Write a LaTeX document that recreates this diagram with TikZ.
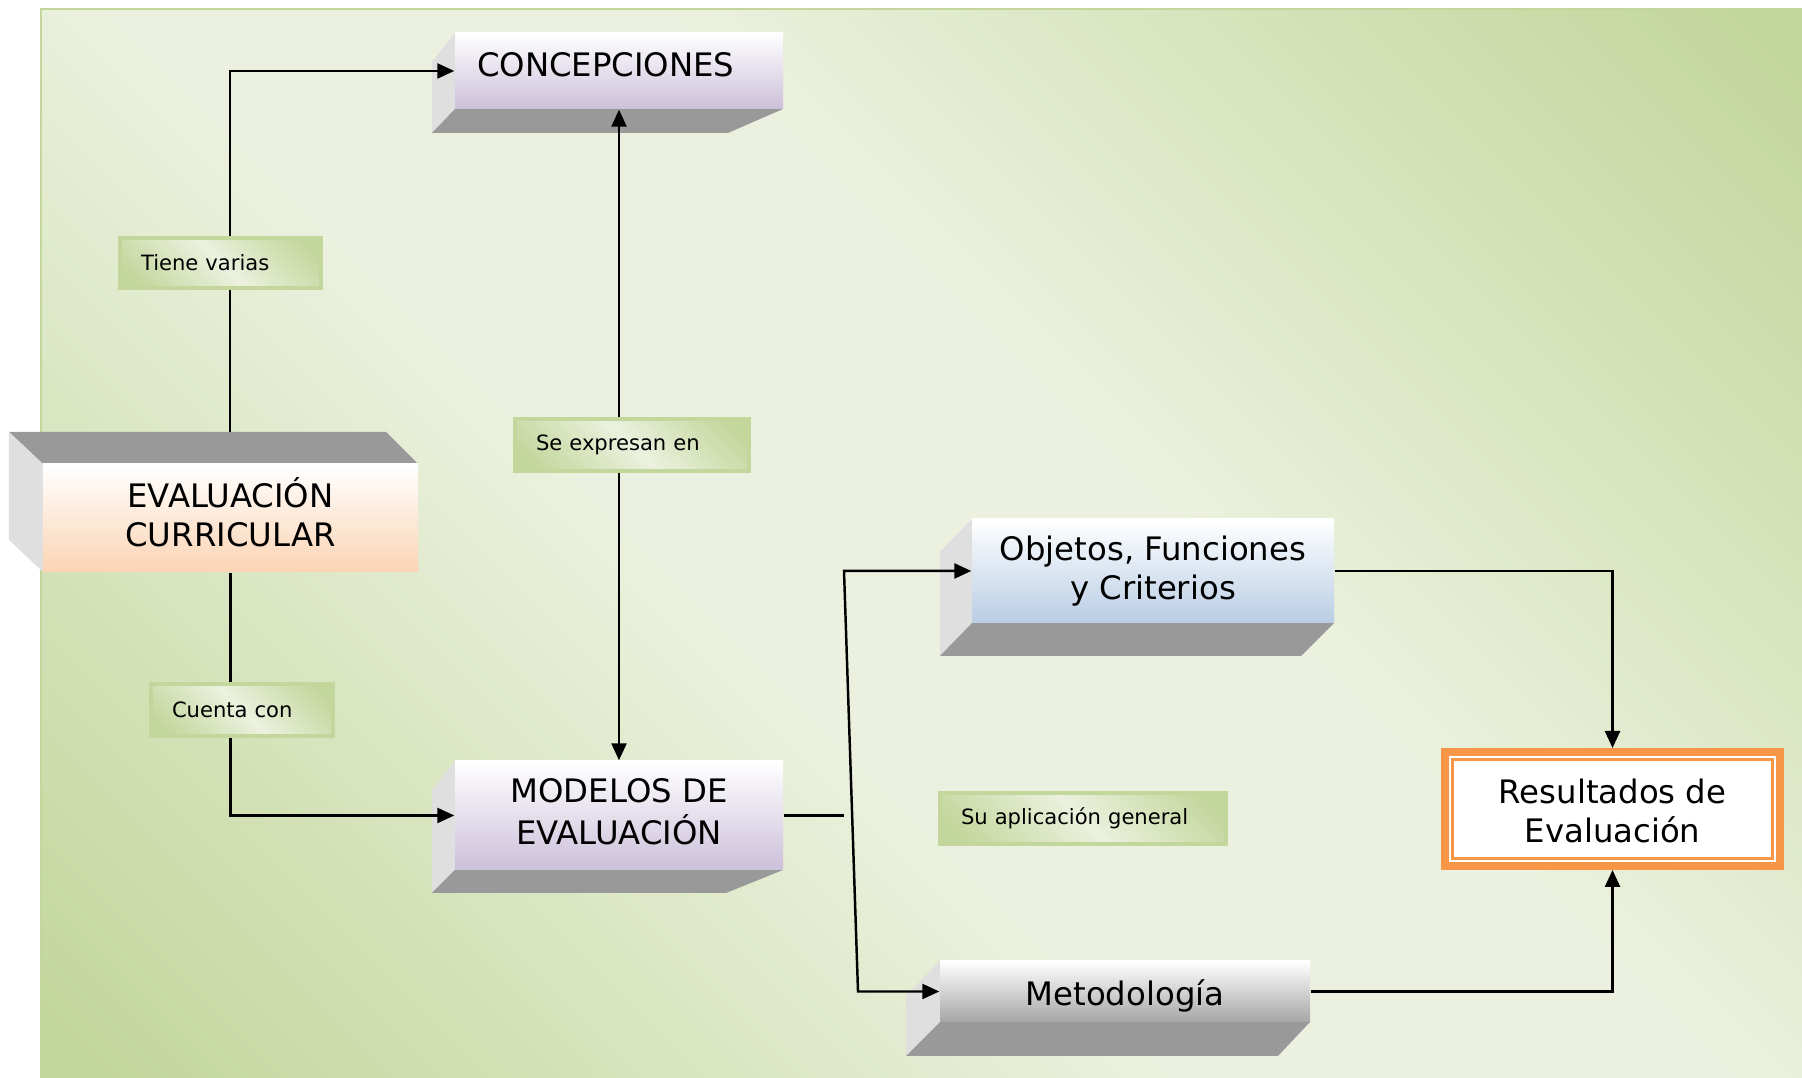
\documentclass[tikz,border=0pt]{standalone}
\usepackage{fontspec}
\setmainfont{DejaVu Sans}
\usetikzlibrary{arrows.meta}

\definecolor{bgdark}{HTML}{C3D69B}
\definecolor{bglight}{HTML}{EBF1DE}
\definecolor{lavender}{HTML}{CCC0DA}
\definecolor{peach}{HTML}{FBD4B4}
\definecolor{paleblue}{HTML}{B9CDE5}
\definecolor{midgray}{HTML}{A6A6A6}
\definecolor{facegray}{HTML}{999999}
\definecolor{sidegray}{HTML}{DFDFDF}
\definecolor{resorange}{HTML}{F79646}

\pgfdeclareverticalshading{diaggreen}{100bp}{color(0bp)=(bgdark); color(16bp)=(bgdark); color(43bp)=(bglight); color(57bp)=(bglight); color(84bp)=(bgdark); color(100bp)=(bgdark)}
\pgfdeclareverticalshading{taggreen}{100bp}{color(0bp)=(bgdark); color(20bp)=(bgdark); color(50bp)=(bglight); color(80bp)=(bgdark); color(100bp)=(bgdark)}

% move the text inside a box without changing the box
\newcommand{\nudge}[2]{\raisebox{#1}[\height][\depth]{#2}}

\begin{document}
\begin{tikzpicture}[every node/.style={font=\fontsize{9.2}{11}\selectfont},
        >={Triangle[length=1.7mm,width=1.5mm]},
        front/.style={shade, inner sep=0pt, align=center},
        tag/.style={shade, shading=taggreen, shading angle=-45, draw=bgdark, line width=1pt,
            inner xsep=2.1mm, inner ysep=0pt, align=left, font=\fontsize{6}{7}\selectfont},
        conn/.style={line width=0.7pt}]
        \useasboundingbox (0,0) rectangle (18.02,10.78);

        % Background
        \shade[shading=diaggreen, shading angle=-45] (0.41,0) rectangle (18.02,10.69);
        \draw[bgdark, line width=0.8pt] (0.41,0) -- (0.41,10.69) -- (18.02,10.69);

        % 3D faces of the boxes
        \fill[sidegray] (4.55,10.45) -- (4.32,10.16) -- (4.32,9.45) -- (4.55,9.69) -- cycle;
        \fill[facegray] (4.55,9.69) -- (7.83,9.69) -- (7.28,9.45) -- (4.32,9.45) -- cycle;
        \fill[facegray] (0.09,6.46) -- (3.86,6.46) -- (4.18,6.14) -- (0.43,6.14) -- cycle;
        \fill[sidegray] (0.09,6.46) -- (0.43,6.14) -- (0.43,5.06) -- (0.09,5.38) -- cycle;
        \fill[sidegray] (4.55,3.17) -- (4.32,2.88) -- (4.32,1.85) -- (4.55,2.08) -- cycle;
        \fill[facegray] (4.55,2.08) -- (7.83,2.08) -- (7.26,1.85) -- (4.32,1.85) -- cycle;
        \fill[sidegray] (9.72,5.59) -- (9.40,5.26) -- (9.40,4.22) -- (9.72,4.55) -- cycle;
        \fill[facegray] (9.72,4.55) -- (13.34,4.55) -- (13.01,4.22) -- (9.40,4.22) -- cycle;
        \fill[sidegray] (9.40,1.17) -- (9.06,0.82) -- (9.06,0.22) -- (9.40,0.56) -- cycle;
        \fill[facegray] (9.40,0.56) -- (13.10,0.56) -- (12.78,0.22) -- (9.06,0.22) -- cycle;

        % Main boxes
        \node[front, top color=white, bottom color=lavender, text width=2.84cm, inner xsep=2.2mm,
            align=left, minimum height=0.76cm] (conc) at (6.19,10.07) {\nudge{0.06cm}{CONCEPCIONES}};
        \node[front, top color=white, bottom color=peach, minimum width=3.75cm,
            minimum height=1.08cm] (eval) at (2.305,5.60)
            {\begin{tabular}{@{}c@{}}EVALUACIÓN\\CURRICULAR\end{tabular}};
        \node[front, top color=white, bottom color=lavender, minimum width=3.28cm,
            minimum height=1.09cm] (mod) at (6.19,2.625)
            {\begin{tabular}{@{}c@{}}MODELOS DE\\EVALUACIÓN\end{tabular}};
        \node[front, top color=white, bottom color=paleblue, minimum width=3.62cm,
            minimum height=1.04cm] (obj) at (11.53,5.07) {Objetos, Funciones\\y Criterios};
        \node[front, top color=white, bottom color=midgray, minimum width=3.70cm,
            minimum height=0.61cm] (met) at (11.25,0.865) {\nudge{-0.04cm}{Metodología}};
        \node[draw=resorange, line width=0.8mm, fill=white, align=center, minimum width=3.35cm,
            minimum height=1.14cm] (res) at (16.125,2.69)
            {\nudge{-0.06cm}{\begin{tabular}{@{}c@{}}Resultados de\\Evaluación\end{tabular}}};
        \draw[resorange, line width=0.7pt] ([shift={(1.15mm,1.15mm)}]res.south west)
            rectangle ([shift={(-1.15mm,-1.15mm)}]res.north east);

        % Labels
        \node[tag, text width=1.59cm, minimum height=0.50cm] (tiene) at (2.205,8.15) {Tiene varias};
        \node[tag, text width=1.92cm, minimum height=0.52cm] (expr) at (6.32,6.33) {Se expresan en};
        \node[tag, text width=1.40cm, minimum height=0.52cm] (cuenta) at (2.42,3.68) {Cuenta con};
        \node[tag, text width=2.44cm, minimum height=0.51cm] (aplic) at (10.83,2.595) {Su aplicación general};

        % Bend points
        \coordinate (evtop) at (2.30,6.46);
        \coordinate (ftop) at (8.44,5.07);
        \coordinate (fbot) at (8.58,0.865);

        % Connectors
        \draw[conn] (evtop) -- (evtop |- tiene.south);
        \draw[conn,->] (evtop |- tiene.north) |- (conc.west);
        \draw[conn] (eval.south) -- (eval.south |- cuenta.north);
        \draw[conn,->] (eval.south |- cuenta.south) |- (mod.west);
        \draw[conn,->] (conc.south |- expr.north) -- (conc.south);
        \draw[conn,->] (conc.south |- expr.south) -- (mod.north);
        \draw[conn] (mod.east) -- (mod.east -| ftop);
        \draw[conn,<->] (obj.west) -- (ftop) -- (fbot) -- (met.west);
        \draw[conn,->] (obj.east) -| (res.north);
        \draw[conn,->] (met.east) -| (res.south);
    \end{tikzpicture}
\end{document}
